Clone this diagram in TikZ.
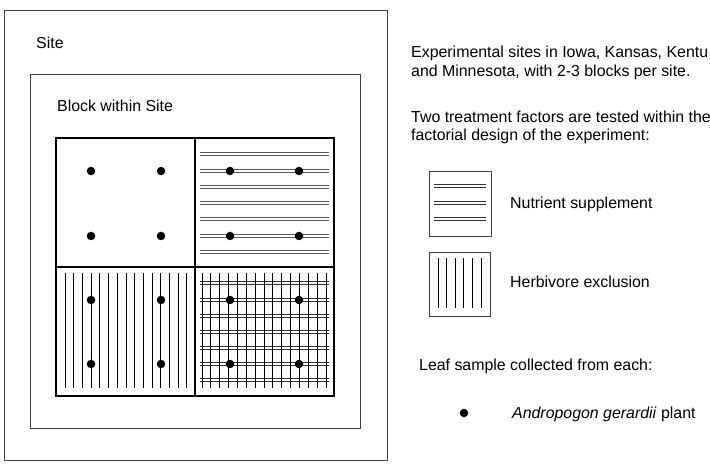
\documentclass[tikz,border=0pt]{standalone}
\usepackage{fontspec}
\setmainfont{Liberation Sans}
\begin{document}
\begin{tikzpicture}[x=1pt,y=-1pt,
  thinbox/.style={draw=black!75,line width=0.9pt},
  gridline/.style={draw=black,line width=1.8pt},
  hline/.style={draw=black!65,line width=0.9pt},
  vline/.style={draw=black,line width=0.9pt},
  plant/.style={circle,fill=black,inner sep=0pt,minimum size=8.5pt},
  txt/.style={anchor=base west,inner sep=0pt,font=\fontsize{15.9}{19}\selectfont}]
\useasboundingbox (0,0) rectangle (710,470);
% boxes
\draw[thinbox] (4,10) rectangle (387,460);
\draw[thinbox] (30,74) rectangle (360,428);
\node[txt] (site) at (36,49) {Site};
\node[txt] (block) at (57,112) {Block within Site};
% nutrient: horizontal double lines (top-right and bottom-right)
\foreach \y in {154,171,187,203,219,236,252}{
  \draw[hline] (200,\y-1.2) -- (329,\y-1.2);
  \draw[hline] (200,\y+1.2) -- (329,\y+1.2);
}
\foreach \y in {283,300,316,332,348,364,380}{
  \draw[hline,draw=black!80] (200,\y-1.2) -- (329,\y-1.2);
  \draw[hline,draw=black!80] (200,\y+1.2) -- (329,\y+1.2);
}
% herbivore: vertical lines (bottom-left and bottom-right)
\foreach \i in {0,...,14}{
  \draw[vline] (65+\i*8.71,273) -- (65+\i*8.71,388);
  \draw[vline] (202+\i*8.86,273) -- (202+\i*8.86,388);
}
% grid
\draw[gridline] (56,138) rectangle (334,396);
\draw[gridline] (195,138) -- (195,396);
\draw[gridline] (56,267) -- (334,267);
% plants
\foreach \x/\y [count=\k] in {91/171,161/171,91/236,161/236,230/171,299/171,230/236,299/236,
  91/300,161/300,91/364,161/364,230/300,299/300,230/364,299/364}{
  \node[plant] (p\k) at (\x,\y) {};
}
% right text
\node[txt] (t1) at (411,58) {Experimental sites in Iowa, Kansas, Kentu};
\node[txt] (t2) at (411,77) {and Minnesota, with 2-3 blocks per site.};
\node[txt] (t3) at (411,123) {Two treatment factors are tested within the};
\node[txt] (t4) at (411,141) {factorial design of the experiment:};
% legend nutrient
\draw[thinbox] (429,171) rectangle (491,236);
\foreach \y in {186,203,219}{
  \draw[hline,draw=black!80] (434,\y-1.2) -- (486,\y-1.2);
  \draw[hline,draw=black!80] (434,\y+1.2) -- (486,\y+1.2);
}
\node[txt] (ln) at (510,209) {Nutrient supplement};
% legend herbivore
\draw[thinbox] (429,252) rectangle (490,316);
\foreach \x in {438,446.6,455.2,463.8,472.4,481}{
  \draw[vline] (\x,258) -- (\x,308);
}
\node[txt] (lh) at (510,288) {Herbivore exclusion};
\node[txt] (ll) at (419,371) {Leaf sample collected from each:};
\node[plant] (lp) at (464,413) {};
\node[txt] (la) at (512,419) {\textit{Andropogon gerardii} plant};
\end{tikzpicture}
\end{document}
